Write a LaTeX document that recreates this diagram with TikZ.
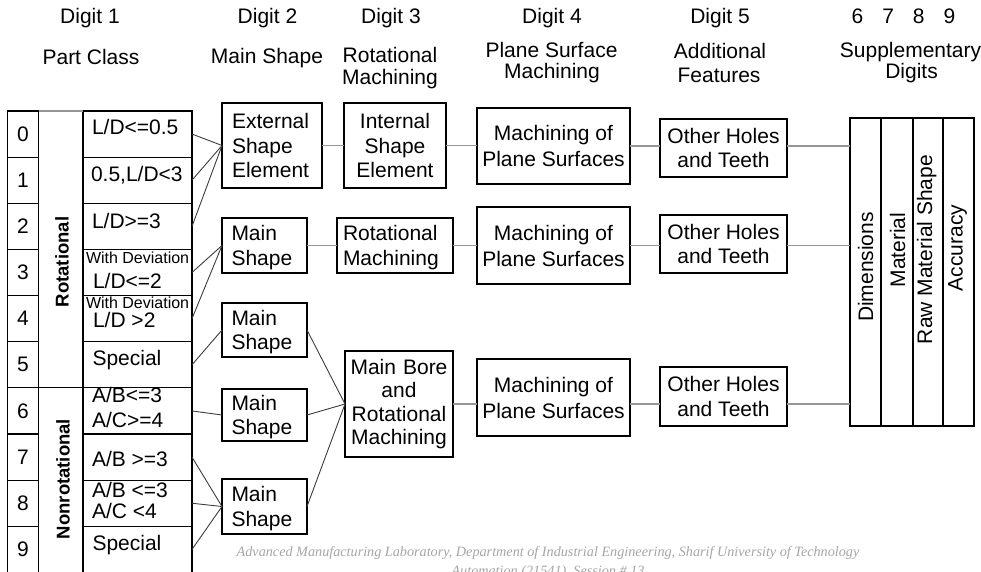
\documentclass[tikz,border=0pt]{standalone}
\usepackage{fontspec}
\setmainfont{Liberation Sans}
\newfontfamily\footfont{Liberation Serif}
\definecolor{conngray}{RGB}{150,150,150}
\definecolor{linedark}{RGB}{60,60,60}
\definecolor{footgray}{RGB}{165,165,165}
\begin{document}
\begin{tikzpicture}[x=1pt,y=-1pt,
  every node/.style={inner sep=0pt, outer sep=0pt},
  big/.style={font=\fontsize{21}{24.5}\selectfont},
  sm/.style={font=\fontsize{16}{18}\selectfont},
  cell/.style={draw=black, line width=1.1pt},
  dcell/.style={cell, minimum width=31pt, minimum height=46.15pt, big},
  lcell/.style={cell, minimum width=109pt, minimum height=46.15pt},
  box/.style={draw=black, line width=1.2pt, big},
  lbox/.style={box, align=left},
  cbox/.style={box, align=center},
  cboxz/.style={box, align=center, text depth=0pt},
  scol/.style={draw=black, line width=1.2pt, minimum height=308pt},
  conn/.style={draw=linedark, line width=0.9pt},
  hconn/.style={draw=conngray, line width=1.6pt},
  ttl/.style={big, anchor=base},
  lab/.style={big, anchor=base west},
  slab/.style={sm, anchor=base west},
  rlab/.style={big, rotate=90, anchor=base},
  boldrot/.style={font=\bfseries\fontsize{18.5}{20}\selectfont, rotate=90, anchor=base},
  foot/.style={font=\footfont\itshape\fontsize{14.2}{16}\selectfont, text=footgray, anchor=base},
]
\useasboundingbox (0,0) rectangle (981,572);
\clip (0,0) rectangle (981,572);

% ---------- titles ----------
\node[ttl] (t1a) at (90,24) {Digit 1};
\node[ttl] (t1b) at (91,65) {Part Class};
\node[ttl] (t2a) at (267.5,24) {Digit 2};
\node[ttl] (t2b) at (267,64) {Main Shape};
\node[ttl] (t3a) at (391,24) {Digit 3};
\node[ttl] (t3b) at (390,63) {Rotational};
\node[ttl] (t3c) at (390,84.5) {Machining};
\node[ttl] (t4a) at (552,24) {Digit 4};
\node[ttl] (t4b) at (551.5,57.5) {Plane Surface};
\node[ttl] (t4c) at (552,79) {Machining};
\node[ttl] (t5a) at (720,24) {Digit 5};
\node[ttl] (t5b) at (720,59) {Additional};
\node[ttl] (t5c) at (719,83) {Features};
\node[ttl] (t6a) at (903.5,24) {6\hspace{19pt}7\hspace{19pt}8\hspace{19pt}9};
\node[ttl] (t6b) at (910.5,58) {Supplementary};
\node[ttl] (t6c) at (911.5,79) {Digits};

% ---------- label texts (under the grid lines) ----------
\node[lab] (x0) at (92,135) {L/D<=0.5};
\node[lab] (x1) at (91,181) {0.5,L/D<3};
\node[lab] (x2) at (92,228) {L/D>=3};
\node[slab] (x3a) at (86,263) {With Deviation};
\node[lab] (x3b) at (93,288) {L/D<=2};
\node[slab] (x4a) at (86,308) {With Deviation};
\node[lab] (x4b) at (93,327) {L/D >2};
\node[lab] (x5) at (92.5,365) {Special};
\node[lab] (x6a) at (92,402) {A/B<=3};
\node[lab] (x6b) at (92,427) {A/C>=4};
\node[lab] (x7) at (92,466) {A/B >=3};
\node[lab] (x8a) at (92,497) {A/B <=3};
\node[lab] (x8b) at (92,518) {A/C <4};
\node[lab] (x9) at (92.5,550) {Special};

% ---------- part class table ----------
\foreach \i in {0,...,9} {
  \node[dcell] (d\i) at (23,{134.05+46.15*\i}) {\i};
  \node[lcell] (l\i) at (137.5,{134.05+46.15*\i}) {};
}
\draw[conngray, line width=1.6pt] (d0.north east) -- (l0.north west);
\draw[black, line width=1.1pt] (d5.south east) -- (l5.south west);
\node[boldrot] (rot) at (68.5,262) {Rotational};
\node[boldrot] (nonrot) at (69.5,479) {Nonrotational};

% ---------- digit 2 ----------
\node[lbox, minimum width=100pt, minimum height=85pt, text width=80pt] (ext) at (272,145.5) {External\\Shape\\Element};
\node[lbox, minimum width=85pt, minimum height=55pt, text width=66pt] (ms1) at (264.5,245.5) {Main\\\smash{Shape}};
\node[lbox, minimum width=85pt, minimum height=54pt, text width=66pt] (ms2) at (264.5,330) {Main\\\smash{Shape}};
\node[lbox, minimum width=85pt, minimum height=52pt, text width=66pt] (ms3) at (264.5,415) {Main\\\smash{Shape}};
\node[lbox, minimum width=85pt, minimum height=55pt, text width=66pt] (ms4) at (264.5,506.5) {Main\\\smash{Shape}};

% ---------- digit 3 ----------
\node[cbox, minimum width=102pt, minimum height=85pt, text width=92pt] (int) at (395,145.5) {Internal\\Shape\\Element};
\node[lbox, minimum width=116pt, minimum height=55pt, text width=104pt] (rotm) at (395,245.5) {Rotational\\\smash{Machining}};
\node[cbox, font=\fontsize{21}{23.3}\selectfont, minimum width=108pt, minimum height=106pt, text width=100pt] (bore) at (399,404) {Main Bore\\and\\Rotational\\Machining};

% ---------- digit 4 ----------
\node[cboxz, font=\fontsize{21}{26}\selectfont, minimum width=153pt, minimum height=76pt] (mp1) at (553.5,146) {Machining of\\Plane Surfaces};
\node[cboxz, font=\fontsize{21}{26}\selectfont, minimum width=153pt, minimum height=77pt] (mp2) at (553.5,245.5) {Machining of\\Plane Surfaces};
\node[cboxz, font=\fontsize{21}{26}\selectfont, minimum width=153pt, minimum height=77pt] (mp3) at (553.5,397.5) {Machining of\\Plane Surfaces};

% ---------- digit 5 ----------
\node[cboxz, minimum width=127pt, minimum height=58pt] (oh1) at (723.5,148) {Other Holes\\and Teeth};
\node[cboxz, minimum width=127pt, minimum height=58pt] (oh2) at (723.5,244) {Other Holes\\and Teeth};
\node[cboxz, minimum width=127pt, minimum height=59pt] (oh3) at (723.5,396.5) {Other Holes\\and Teeth};

% ---------- supplementary digits ----------
\node[scol, minimum width=31pt] (s1) at (865.5,272) {};
\node[scol, minimum width=32pt] (s2) at (897,272) {};
\node[scol, minimum width=30pt] (s3) at (928,272) {};
\node[scol, minimum width=31pt] (s4) at (958.5,272) {};
\node[rlab] (sd) at (873,267) {Dimensions};
\node[rlab] (sm) at (905,250) {Material};
\node[rlab] (sr) at (932,249.5) {Raw Material Shape};
\node[rlab] (sa) at (962.5,248) {Accuracy};

% ---------- connectors: part class to main shape ----------
\draw[conn] (l0.east) -- (ext.west);
\draw[conn] (l1.east) -- (ext.west);
\draw[conn] (l2.east) -- (ext.west);
\draw[conn] (l3.east) -- (ms1.west);
\draw[conn] (l4.east) -- (ms1.west);
\draw[conn] (l5.east) -- (ms2.west);
\draw[conn] (l6.east) -- (ms3.west);
\draw[conn] (l7.east) -- (ms4.west);
\draw[conn] (l8.east) -- (ms4.west);
\draw[conn] (l9.east) -- (ms4.west);
\draw[conn] (ms2.east) -- (bore.west);
\draw[conn] (ms3.east) -- (bore.west);
\draw[conn] (ms4.east) -- (bore.west);

% ---------- horizontal chains ----------
\draw[hconn] (ext.east) -- (int.west);
\draw[hconn] (int.east) -- (int.east -| mp1.west);
\draw[hconn] (mp1.east) -- (mp1.east -| oh1.west);
\draw[hconn] (mp1.east -| oh1.east) -- (mp1.east -| s1.west);
\draw[hconn] (ms1.east) -- (rotm.west);
\draw[hconn] (rotm.east) -- (mp2.west);
\draw[hconn] (mp2.east) -- (mp2.east -| oh2.west);
\draw[hconn] (mp2.east -| oh2.east) -- (mp2.east -| s1.west);
\draw[hconn] (bore.east) -- (bore.east -| mp3.west);
\draw[hconn] (bore.east -| mp3.east) -- (bore.east -| oh3.west);
\draw[hconn] (bore.east -| oh3.east) -- (bore.east -| s1.west);

% ---------- footer ----------
\node[foot] (f1) at (548,556) {Advanced Manufacturing Laboratory, Department of Industrial Engineering, Sharif University of Technology};
\node[foot] (f2) at (548,575) {Automation (21541), Session \# 13};
\end{tikzpicture}
\end{document}
